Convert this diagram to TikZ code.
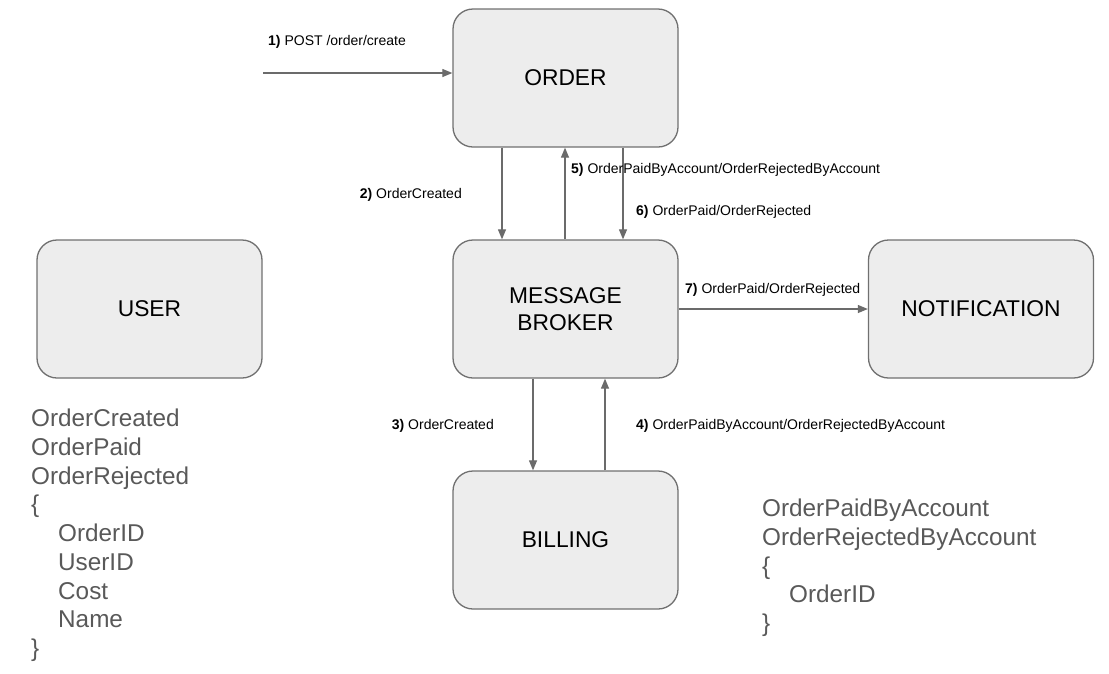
\documentclass[tikz,border=0pt]{standalone}
\usepackage{fontspec}
\setmainfont{Liberation Sans}
\usetikzlibrary{arrows.meta,positioning,shapes}
\definecolor{boxfill}{HTML}{EDEDED}
\definecolor{boxline}{HTML}{707070}
\definecolor{linegray}{HTML}{6B6B6B}
\definecolor{msgtext}{HTML}{595959}
\tikzstyle{service} = [rectangle, rounded corners=20pt, minimum width=225pt, minimum height=138pt, align=center, draw=boxline, line width=1.3pt, fill=boxfill, font=\fontsize{22.8}{27}\selectfont]
\tikzstyle{arrow} = [draw=linegray, line width=1.2pt, ->, >={Triangle[length=10pt,width=8pt]}]
\tikzstyle{lbl} = [inner sep=0, font=\fontsize{14}{17}\selectfont]
\tikzstyle{payload} = [inner sep=0, anchor=north west, align=left, text=msgtext, font=\fontsize{24.3}{28.7}\selectfont]

\begin{document}
\begin{tikzpicture}[x=1pt, y=-1pt, node distance=231pt]
\useasboundingbox (0,0) rectangle (1109,673);

\node (order) [service] at (565.5,78) {ORDER};
\node (broker) [service, below of=order] {MESSAGE\\BROKER};
\node (billing) [service, below of=broker] {BILLING};
\node (user) [service, left of=broker, node distance=416pt] {USER};
\node (notif) [service, right of=broker, node distance=415.5pt] {NOTIFICATION};

\coordinate (client) at (263,73);

%arrows
\draw [arrow] (client) -- (client -| order.west);
\draw [arrow] ([xshift=-63.5pt]order.south) -- ([xshift=-63.5pt]broker.north);
\draw [arrow] ([xshift=-0.5pt]broker.north) -- ([xshift=-0.5pt]order.south);
\draw [arrow] ([xshift=57.5pt]order.south) -- ([xshift=57.5pt]broker.north);
\draw [arrow] (broker.east) -- (notif.west);
\draw [arrow] ([xshift=-32.5pt]broker.south) -- ([xshift=-32.5pt]billing.north);
\draw [arrow] ([xshift=39.5pt]billing.north) -- ([xshift=39.5pt]broker.south);

%labels
\node (l1) [lbl, anchor=base west] at (268,45) {\textbf{1)} POST /order/create};
\node (l2) [lbl, anchor=base east] at (462,198) {\textbf{2)} OrderCreated};
\node (l5) [lbl, anchor=base west] at (571,173) {\textbf{5)} OrderPaidByAccount/OrderRejectedByAccount};
\node (l6) [lbl, anchor=base west] at (636,215) {\textbf{6)} OrderPaid/OrderRejected};
\node (l7) [lbl, anchor=base west] at (685,293) {\textbf{7)} OrderPaid/OrderRejected};
\node (l3) [lbl, anchor=base east] at (494,429) {\textbf{3)} OrderCreated};
\node (l4) [lbl, anchor=base west] at (636,429) {\textbf{4)} OrderPaidByAccount/OrderRejectedByAccount};

%event payloads
\node (evorder) [payload] at (31,409) {OrderCreated\\OrderPaid\\OrderRejected\\\{\\\hspace*{27pt}OrderID\\\hspace*{27pt}UserID\\\hspace*{27pt}Cost\\\hspace*{27pt}Name\\\}};
\node (evaccount) [payload] at (762,499) {OrderPaidByAccount\\OrderRejectedByAccount\\\{\\\hspace*{27pt}OrderID\\\}};

\end{tikzpicture}
\end{document}
